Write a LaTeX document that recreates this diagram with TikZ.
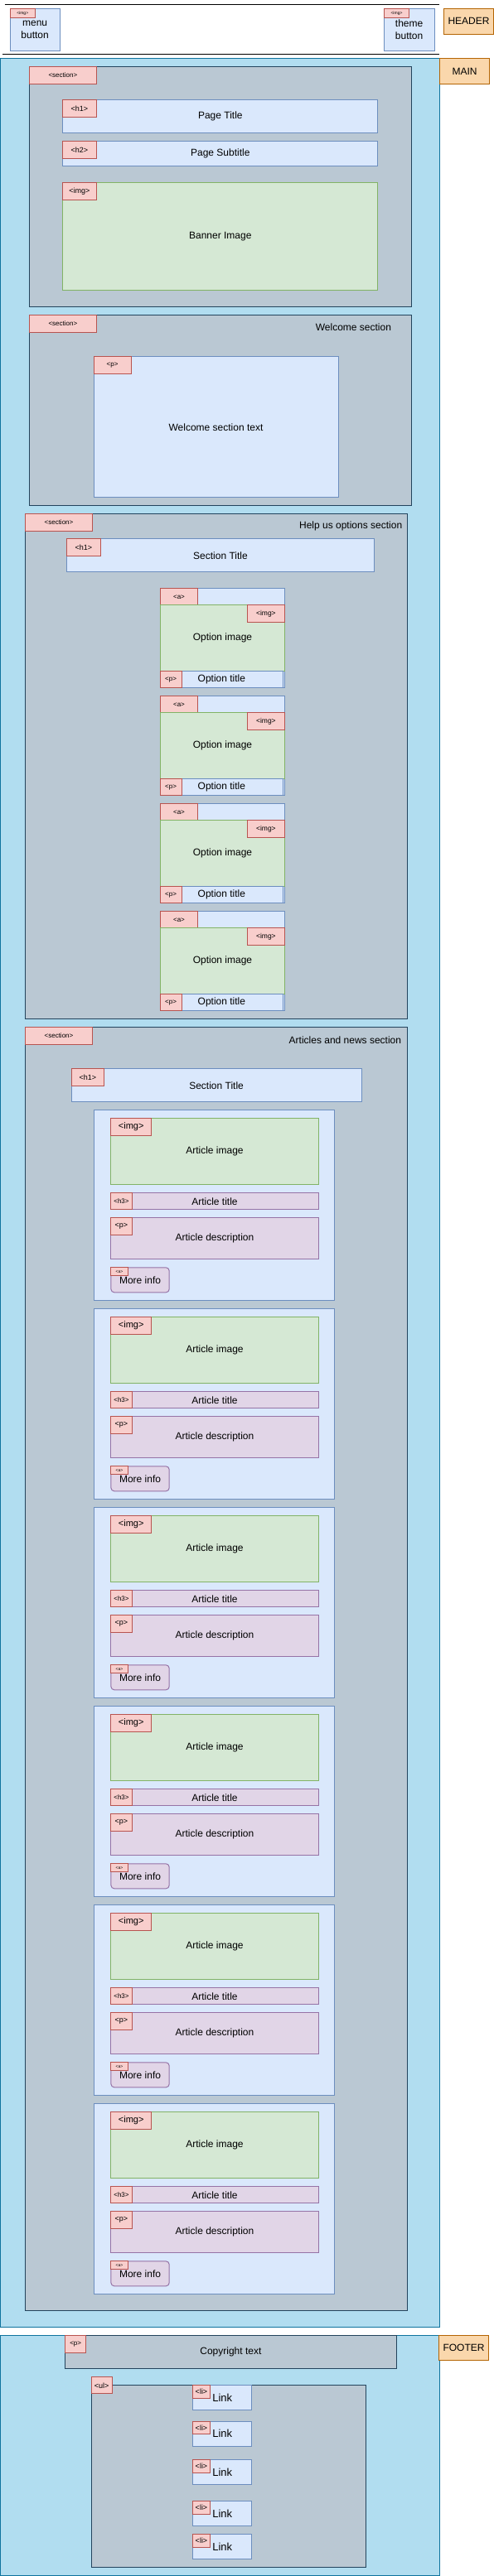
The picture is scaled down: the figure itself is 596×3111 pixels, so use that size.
\documentclass[tikz,border=0pt]{standalone}
\usepackage{fontspec}
\setmainfont{Liberation Sans}
\definecolor{fondbleu}{HTML}{DAE8FC}\definecolor{traitbleu}{HTML}{6C8EBF}
\definecolor{fondvert}{HTML}{D5E8D4}\definecolor{traitvert}{HTML}{82B366}
\definecolor{fondviolet}{HTML}{E1D5E7}\definecolor{traitviolet}{HTML}{9673A6}
\definecolor{fondgris}{HTML}{BAC8D3}\definecolor{traitgris}{HTML}{23445D}
\definecolor{fondzone}{HTML}{B1DDF0}\definecolor{traitzone}{HTML}{10739E}
\definecolor{fondorange}{HTML}{FAD7AC}\definecolor{traitorange}{HTML}{B46504}
\definecolor{fondrose}{HTML}{F8CECC}\definecolor{traitrose}{HTML}{B85450}

\tikzset{bloc/.style={draw=trait#1,fill=fond#1,anchor=north west,inner sep=0pt,
  align=center,font=\fontsize{12}{14}\selectfont},
bloc/.default={bleu},
wh/.style 2 args={minimum width=#1pt,minimum height=#2pt},
balise/.style={bloc=rose,font=\fontsize{#1}{#1}\selectfont},
balise/.default={8},
titre/.style={anchor=east,inner sep=0pt,font=\fontsize{12}{14}\selectfont}}

\begin{document}
\begin{tikzpicture}[x=1pt,y=-1pt,line width=1pt]
\fill[white] (0,0) rectangle (596,3111);
\useasboundingbox (0,0) rectangle (596,3111);

% header
\draw (5.7,5.3) -- (530,5.3);
\draw (3,65.3) -- (530,65.3);
\node[bloc,wh={60.3}{50.7},font=\fontsize{12}{15}\selectfont] (menu) at (11.5,10) {menu\\button};
\node[balise=5,wh={30.5}{10.7}] (menutag) at (11.5,10) {<img>};
\node[bloc,wh={60.8}{50.7},font=\fontsize{12}{15}\selectfont] (theme) at (462.7,10) {theme\\button};
\node[balise=5,wh={30.6}{10.7}] (themetag) at (462.7,10) {<img>};
\node[bloc=orange,wh={60}{30.7}] (header) at (535,10) {HEADER};

% main
\node[bloc=zone,wh={530}{2740}] (main) at (0,70.3) {};
\node[bloc=orange,wh={60}{30.4}] (mainlabel) at (530,70.3) {MAIN};

\node[bloc=gris,wh={460.3}{290}] (sec1) at (35.3,80.3) {};
\node[balise,wh={80.2}{20.4}] (sec1tag) at (35.3,80.3) {<section>};
\node[bloc,wh={380}{40}] (h1) at (75.3,120.3) {Page Title};
\node[balise=9,wh={40.2}{20.4}] (h1tag) at (75.3,120.3) {<h1>};
\node[bloc,wh={380}{30}] (h2) at (75.3,170.3) {Page Subtitle};
\node[balise=9,wh={40.2}{20.4}] (h2tag) at (75.3,170.3) {<h2>};
\node[bloc=vert,wh={380}{130}] (banner) at (75.3,220.3) {Banner Image};
\node[balise=9,wh={40.2}{20.4}] (bannertag) at (75.3,220.3) {<img>};

\node[bloc=gris,wh={460.3}{230}] (sec2) at (35.3,380.3) {};
\node[balise,wh={80.2}{20.4}] (sec2tag) at (35.3,380.3) {<section>};
\node[titre] (sec2titre) at (472.5,395.7) {Welcome section};
\node[bloc,wh={295}{170}] (welcome) at (112.5,430.3) {Welcome section text};
\node[balise=8,wh={45.2}{20.4}] (welcometag) at (112.5,430.3) {<p>};

\node[bloc=gris,wh={460.3}{610}] (sec3) at (30.4,620.3) {};
\node[balise,wh={80.2}{20.4}] (sec3tag) at (30.4,620.3) {<section>};
\node[titre] (sec3titre) at (485.7,635.7) {Help us options section};
\node[bloc,wh={370.6}{40}] (h1opt) at (80.2,650.3) {Section Title};
\node[balise=9,wh={40.3}{20.4}] (h1opttag) at (80.2,650.3) {<h1>};
\foreach \i [evaluate=\i as \y using 710.3+130*\i] in {0,...,3}{
  \node[bloc,wh={150.5}{120}] (opt\i) at (192.7,\y) {};
  \node[balise,wh={45.6}{20}] (opt\i tag) at (192.7,\y) {<a>};
  \node[bloc=vert,wh={150.5}{80}] (optimg\i) at (192.7,\y+20) {Option image};
  \node[balise=8.5,wh={45.6}{20.4}] (optimg\i tag) at (297.6,\y+20) {<img>};
  \node[bloc,wh={148.3}{20}] (optp\i) at (192.7,\y+100) {Option title};
  \node[balise,wh={25.8}{20}] (optp\i tag) at (192.7,\y+100) {<p>};
}

\node[bloc=gris,wh={460.3}{1550}] (sec4) at (30.4,1240.3) {};
\node[balise,wh={80.2}{20.4}] (sec4tag) at (30.4,1240.3) {<section>};
\node[titre] (sec4titre) at (484.6,1255.7) {Articles and news section};
\node[bloc,wh={350.1}{40}] (h1art) at (85.5,1290.3) {Section Title};
\node[balise=9,wh={39.9}{20.4}] (h1arttag) at (85.5,1290.3) {<h1>};
\foreach \i [evaluate=\i as \y using 1340.3+240*\i] in {0,...,5}{
  \node[bloc,wh={290}{230}] (art\i) at (113,\y) {};
  \node[bloc=vert,wh={250.1}{80}] (artimg\i) at (133.4,\y+10) {Article image};
  \node[balise=11,wh={48.6}{20.4}] (artimg\i tag) at (133.4,\y+10) {<img>};
  \node[bloc=violet,wh={250.1}{20}] (arth\i) at (133.4,\y+100) {Article title};
  \node[balise,wh={25.1}{20}] (arth\i tag) at (133.4,\y+100) {<h3>};
  \node[bloc=violet,wh={250.1}{50}] (artp\i) at (133.4,\y+130) {Article description};
  \node[balise=9,wh={25.1}{20.4}] (artp\i tag) at (133.4,\y+130) {<p>};
  \node[bloc=violet,wh={70.3}{30},rounded corners=4pt] (more\i) at (133.4,\y+190) {More info};
  \node[balise=5,wh={20.2}{10}] (more\i tag) at (133.4,\y+190) {<a>};
}

% footer
\node[bloc=zone,wh={530}{289.7}] (footer) at (0,2820.3) {};
\node[bloc=orange,wh={60}{30}] (footerlabel) at (529,2820.3) {FOOTER};
\node[bloc=gris,wh={399.9}{40}] (copy) at (77.9,2820.3) {Copyright text};
\node[balise,wh={25.5}{20.4}] (copytag) at (77.9,2820.3) {<p>};
\node[bloc=gris,wh={330.3}{220}] (ul) at (110.2,2880.3) {};
\node[balise=9,wh={25.4}{20}] (ultag) at (109.5,2870.3) {<ul>};
\foreach \y [count=\i] in {2880.3,2923.7,2970.3,3020.3,3060.3}{
  \node[bloc,wh={71.1}{30},font=\fontsize{13}{15}\selectfont] (li\i) at (232.2,\y) {Link};
  \node[balise=9,wh={20.6}{15.3}] (li\i tag) at (232.2,\y) {<li>};
}
\end{tikzpicture}
\end{document}
